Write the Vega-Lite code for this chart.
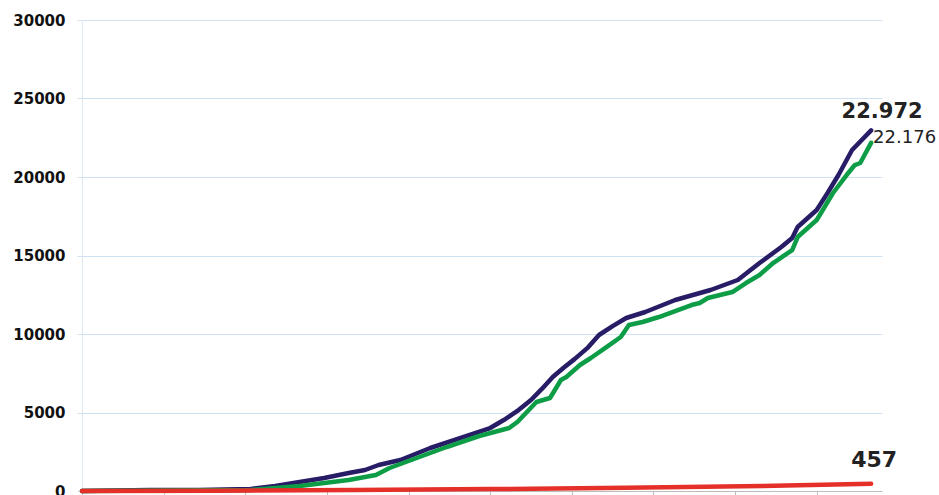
{
  "$schema": "https://vega.github.io/schema/vega-lite/v6.json",
  "width": 800,
  "height": 471,
  "autosize": "none",
  "padding": {"left": 82, "top": 20, "right": 57, "bottom": 4},
  "background": "white",
  "config": {"view": {"stroke": null}},
  "datasets": {
    "series": [
      {"series": "confirmados", "day": 0, "value": 0},
      {"series": "confirmados", "day": 25, "value": 60},
      {"series": "confirmados", "day": 43, "value": 70},
      {"series": "confirmados", "day": 62, "value": 130},
      {"series": "confirmados", "day": 71, "value": 318},
      {"series": "confirmados", "day": 80, "value": 573},
      {"series": "confirmados", "day": 89, "value": 828},
      {"series": "confirmados", "day": 98, "value": 1146},
      {"series": "confirmados", "day": 104, "value": 1337},
      {"series": "confirmados", "day": 109, "value": 1656},
      {"series": "confirmados", "day": 117, "value": 1974},
      {"series": "confirmados", "day": 128, "value": 2739},
      {"series": "confirmados", "day": 140, "value": 3439},
      {"series": "confirmados", "day": 150, "value": 4012},
      {"series": "confirmados", "day": 155, "value": 4522},
      {"series": "confirmados", "day": 160, "value": 5100},
      {"series": "confirmados", "day": 165, "value": 5796},
      {"series": "confirmados", "day": 169, "value": 6500},
      {"series": "confirmados", "day": 173, "value": 7261},
      {"series": "confirmados", "day": 177, "value": 7850},
      {"series": "confirmados", "day": 181, "value": 8400},
      {"series": "confirmados", "day": 186, "value": 9150},
      {"series": "confirmados", "day": 190, "value": 9936},
      {"series": "confirmados", "day": 195, "value": 10500},
      {"series": "confirmados", "day": 200, "value": 11018},
      {"series": "confirmados", "day": 207, "value": 11401},
      {"series": "confirmados", "day": 218, "value": 12165},
      {"series": "confirmados", "day": 231, "value": 12802},
      {"series": "confirmados", "day": 241, "value": 13439},
      {"series": "confirmados", "day": 249, "value": 14521},
      {"series": "confirmados", "day": 257, "value": 15540},
      {"series": "confirmados", "day": 261, "value": 16114},
      {"series": "confirmados", "day": 263, "value": 16814},
      {"series": "confirmados", "day": 270, "value": 17897},
      {"series": "confirmados", "day": 274, "value": 18980},
      {"series": "confirmados", "day": 278, "value": 20126},
      {"series": "confirmados", "day": 283, "value": 21718},
      {"series": "confirmados", "day": 290, "value": 22972, "label": "22.972"},
      {"series": "recuperados", "day": 0, "value": 0},
      {"series": "recuperados", "day": 62, "value": 64},
      {"series": "recuperados", "day": 80, "value": 318},
      {"series": "recuperados", "day": 98, "value": 701},
      {"series": "recuperados", "day": 108, "value": 1019},
      {"series": "recuperados", "day": 113, "value": 1465},
      {"series": "recuperados", "day": 123, "value": 2102},
      {"series": "recuperados", "day": 134, "value": 2802},
      {"series": "recuperados", "day": 146, "value": 3503},
      {"series": "recuperados", "day": 157, "value": 4012},
      {"series": "recuperados", "day": 160, "value": 4395},
      {"series": "recuperados", "day": 167, "value": 5668},
      {"series": "recuperados", "day": 172, "value": 5923},
      {"series": "recuperados", "day": 176, "value": 7070},
      {"series": "recuperados", "day": 178, "value": 7261},
      {"series": "recuperados", "day": 183, "value": 8025},
      {"series": "recuperados", "day": 187, "value": 8471},
      {"series": "recuperados", "day": 193, "value": 9200},
      {"series": "recuperados", "day": 198, "value": 9808},
      {"series": "recuperados", "day": 201, "value": 10573},
      {"series": "recuperados", "day": 206, "value": 10764},
      {"series": "recuperados", "day": 212, "value": 11082},
      {"series": "recuperados", "day": 224, "value": 11846},
      {"series": "recuperados", "day": 227, "value": 11974},
      {"series": "recuperados", "day": 230, "value": 12292},
      {"series": "recuperados", "day": 239, "value": 12674},
      {"series": "recuperados", "day": 244, "value": 13248},
      {"series": "recuperados", "day": 249, "value": 13757},
      {"series": "recuperados", "day": 254, "value": 14521},
      {"series": "recuperados", "day": 261, "value": 15349},
      {"series": "recuperados", "day": 263, "value": 16177},
      {"series": "recuperados", "day": 270, "value": 17260},
      {"series": "recuperados", "day": 276, "value": 18980},
      {"series": "recuperados", "day": 281, "value": 20126},
      {"series": "recuperados", "day": 284, "value": 20763},
      {"series": "recuperados", "day": 286, "value": 20891},
      {"series": "recuperados", "day": 290, "value": 22176, "label": "22.176"},
      {"series": "óbitos", "day": 0, "value": 0},
      {"series": "óbitos", "day": 50, "value": 20},
      {"series": "óbitos", "day": 100, "value": 60},
      {"series": "óbitos", "day": 150, "value": 120},
      {"series": "óbitos", "day": 200, "value": 200},
      {"series": "óbitos", "day": 250, "value": 320},
      {"series": "óbitos", "day": 290, "value": 457, "label": "457"}
    ]
  },
  "data": {"name": "series"},
  "encoding": {
    "x": {
      "field": "day",
      "type": "quantitative",
      "scale": {"domain": [0, 294], "nice": false, "zero": false},
      "axis": {
        "values": [0, 30, 60, 90, 120, 150, 180, 210, 240, 270],
        "labels": false,
        "title": null,
        "grid": false,
        "domainColor": "#bdbdbd",
        "tickColor": "#bdbdbd",
        "tickSize": 4
      }
    },
    "y": {
      "field": "value",
      "type": "quantitative",
      "scale": {"domain": [0, 30000], "nice": false},
      "axis": {
        "values": [0, 5000, 10000, 15000, 20000, 25000, 30000],
        "format": "d",
        "title": null,
        "gridColor": "#cfe2f3",
        "gridWidth": 1,
        "tickColor": "#cfe2f3",
        "tickSize": 5,
        "domainColor": "#dde8f2",
        "labelFont": "DejaVu Sans",
        "labelFontWeight": "bold",
        "labelFontSize": 15,
        "labelColor": "#111111",
        "labelPadding": 12
      }
    }
  },
  "layer": [
    {
      "mark": {"type": "line", "strokeCap": "round", "strokeJoin": "round", "clip": false},
      "encoding": {
        "color": {
          "field": "series",
          "type": "nominal",
          "scale": {"domain": ["confirmados", "recuperados", "óbitos"], "range": ["#271c66", "#0e9d47", "#e5302a"]},
          "legend": null
        },
        "strokeWidth": {
          "field": "series",
          "type": "nominal",
          "scale": {"domain": ["confirmados", "recuperados", "óbitos"], "range": [4.5, 4.5, 5]},
          "legend": null
        },
        "order": {"field": "day", "type": "quantitative"}
      }
    },
    {
      "transform": [{"filter": "datum.series === 'confirmados' && datum.label"}],
      "mark": {"type": "text", "font": "DejaVu Sans", "fontWeight": "bold", "fontSize": 21, "color": "#222222", "align": "center", "baseline": "alphabetic", "dx": 11, "dy": -12},
      "encoding": {"text": {"field": "label"}}
    },
    {
      "transform": [{"filter": "datum.series === 'recuperados' && datum.label"}],
      "mark": {"type": "text", "font": "DejaVu Sans", "fontSize": 18, "color": "#222222", "align": "left", "baseline": "alphabetic", "dx": 2, "dy": 0},
      "encoding": {"text": {"field": "label"}}
    },
    {
      "transform": [{"filter": "datum.series === 'óbitos' && datum.label"}],
      "mark": {"type": "text", "font": "DejaVu Sans", "fontWeight": "bold", "fontSize": 22, "color": "#222222", "align": "center", "baseline": "alphabetic", "dx": 3, "dy": -17},
      "encoding": {"text": {"field": "label"}}
    }
  ]
}
